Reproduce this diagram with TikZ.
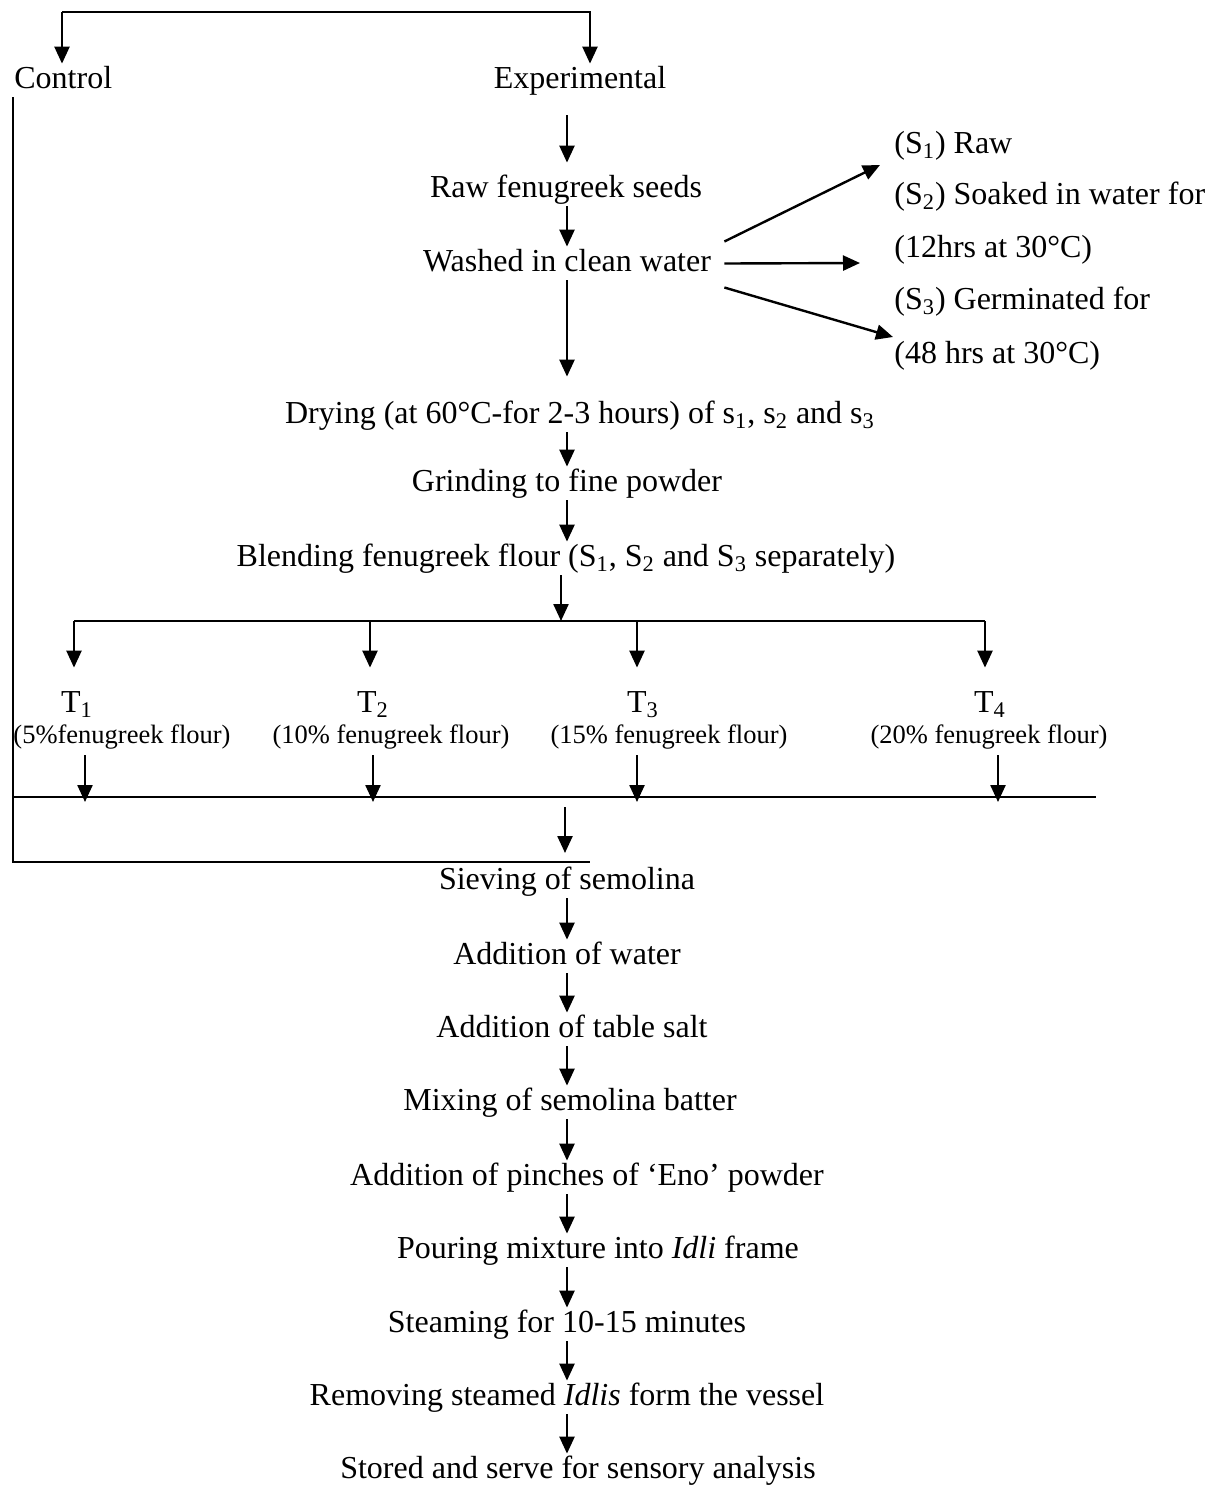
\documentclass[tikz,border=0pt]{standalone}
\usepackage{fontspec}
\setmainfont{Liberation Serif}
\usepackage{tikz}
\usetikzlibrary{arrows.meta, positioning}
\usepackage{xcolor}

\tikzset{
  stage/.style={font=\fontsize{16}{19}\selectfont, inner sep=1pt, text height=11pt, text depth=3.5pt, anchor=base},
  pct/.style={font=\fontsize{13.25}{16}\selectfont, inner sep=1pt, text height=9pt, text depth=3pt, anchor=base},
  bar/.style={line width=1.2pt},
  arr/.style={bar, -{Triangle[length=8.5pt, width=7.5pt]}}
}

\begin{document}
\begin{tikzpicture}[x=0.5pt, y=-0.5pt]
\useasboundingbox (0,0) rectangle (1218,1485);

\coordinate (spine) at (567,0);
\coordinate (topL) at (62,12);
\coordinate (topR) at (590,12);

\node[stage, anchor=base west] (ctrl) at (12,88) {Control};
\node[stage] (exp) at (580,88) {Experimental};
\node[stage] (raw) at (566,197) {Raw fenugreek seeds};
\node[stage] (wash) at (567,271) {Washed in clean water};
\node[stage] (dry) at (580,423) {Drying (at 60°C-for 2-3 hours) of s\textsubscript{1}, s\textsubscript{2} and s\textsubscript{3}};
\node[stage] (grind) at (567,491) {Grinding to fine powder};
\node[stage] (blend) at (566,566) {Blending fenugreek flour (S\textsubscript{1}, S\textsubscript{2} and S\textsubscript{3} separately)};

\node[stage, anchor=base west] (s1) at (892,153) {(S\textsubscript{1}) Raw};
\node[stage, anchor=base west] (s2) at (892,204) {(S\textsubscript{2}) Soaked in water for};
\node[stage, anchor=base west] (s2b) at (892,257) {(12hrs at 30°C)};
\node[stage, anchor=base west] (s3) at (892,309) {(S\textsubscript{3}) Germinated for};
\node[stage, anchor=base west] (s3b) at (892,363) {(48 hrs at 30°C)};

\node[stage] (t1) at (77,712) {T\textsubscript{1}};
\node[stage] (t2) at (373,712) {T\textsubscript{2}};
\node[stage] (t3) at (643,712) {T\textsubscript{3}};
\node[stage] (t4) at (990,712) {T\textsubscript{4}};
\node[pct] (p1) at (122,743) {(5\%fenugreek flour)};
\node[pct] (p2) at (391,743) {(10\% fenugreek flour)};
\node[pct] (p3) at (669,743) {(15\% fenugreek flour)};
\node[pct] (p4) at (989,743) {(20\% fenugreek flour)};

\node[stage] (sieve) at (567,889) {Sieving of semolina};
\node[stage] (water) at (567,964) {Addition of water};
\node[stage] (salt) at (572,1037) {Addition of table salt};
\node[stage] (mix) at (570,1110) {Mixing of semolina batter};
\node[stage] (eno) at (587,1185) {Addition of pinches of `Eno' powder};
\node[stage] (pour) at (598,1258) {Pouring mixture into \textit{Idli} frame};
\node[stage] (steam) at (567,1332) {Steaming for 10-15 minutes};
\node[stage] (remove) at (567,1405) {Removing steamed \textit{Idlis} form the vessel};
\node[stage] (store) at (578,1478) {Stored and serve for sensory analysis};

\draw[arr] (topL) -- (topR) -- (topR |- exp.north);
\draw[arr] (topL) -- (topL |- ctrl.north);

\draw[arr, shorten <=9pt, shorten >=5pt] (exp.south -| spine) -- (raw.north -| spine);
\draw[arr] (raw.south -| spine) -- (wash.north -| spine);
\draw[arr, shorten >=11pt] (wash.south -| spine) -- (dry.north -| spine);
\draw[arr] (dry.south -| spine) -- (grind.north -| spine);
\draw[arr] (grind.south -| spine) -- (blend.north -| spine);

\coordinate (r1) at (880,165);
\coordinate (r2) at (860,263);
\coordinate (r3) at (893,337);
\draw[arr] ([xshift=5.5pt, yshift=11pt]wash.east) -- (r1);
\draw[arr] ([xshift=5.5pt]wash.east) -- (r2);
\draw[arr] ([xshift=5.5pt, yshift=-12pt]wash.east) -- (r3);

\coordinate (split) at (561,621);
\coordinate (b1) at (74,621);
\coordinate (b2) at (370,621);
\coordinate (b3) at (637,621);
\coordinate (b4) at (985,621);
\draw[arr] (blend.south -| split) -- (split);
\draw[bar] (b1) -- (b4);
\foreach \b/\t in {b1/t1, b2/t2, b3/t3, b4/t4}
  \draw[arr, shorten >=10pt] (\b) -- (\b |- \t.north);

\coordinate (m0) at (14,797);
\coordinate (m1) at (85,797);
\coordinate (m2) at (373,797);
\coordinate (m3) at (637,797);
\coordinate (m4) at (998,797);
\coordinate (m5) at (1096,797);
\coordinate (mid) at (565,797);
\coordinate (cb) at (590,862);
\draw[bar] (m0) -- (m5);
\foreach \m/\p in {m1/p1, m2/p2, m3/p3, m4/p4}
  \draw[arr, shorten <=2pt] (\p.south -| \m) -- ([yshift=-2.5pt]\m);
\draw[arr] ([yshift=-5pt]mid) -- ([yshift=4.5pt]mid |- cb);
\draw[bar] ([xshift=0.5pt]ctrl.south west) |- (cb);

\draw[arr] (sieve.south -| spine) -- (water.north -| spine);
\draw[arr] (water.south -| spine) -- (salt.north -| spine);
\draw[arr] (salt.south -| spine) -- (mix.north -| spine);
\draw[arr] (mix.south -| spine) -- (eno.north -| spine);
\draw[arr] (eno.south -| spine) -- (pour.north -| spine);
\draw[arr] (pour.south -| spine) -- (steam.north -| spine);
\draw[arr] (steam.south -| spine) -- (remove.north -| spine);
\draw[arr] (remove.south -| spine) -- (store.north -| spine);
\end{tikzpicture}
\end{document}
